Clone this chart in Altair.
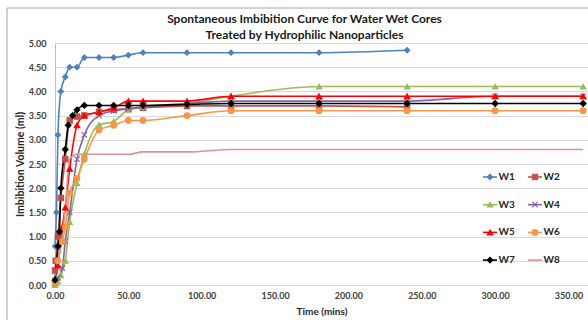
import altair as alt
import pandas as pd

# Series names, colours, marker shapes
SERIES = ["W1", "W2", "W3", "W4", "W5", "W6", "W7", "W8"]
COLORS = ["#4F81BD", "#C0504D", "#9BBB59", "#8064A2", "#FF0000", "#F79646", "#000000", "#D99694"]
X_MARK = "M-1,-1L1,1M-1,1L1,-1"
SHAPES = ["diamond", "square", "triangle-up", X_MARK, "triangle-up", "circle", "diamond", "circle"]
SIZES = [28, 34, 30, 26, 30, 34, 28, 10]

# Imbibition readings: time (mins) and volume (ml) per core
W1_T = [0, 1, 2, 4, 7, 10, 15, 20, 30, 40, 50, 60, 90, 120, 180, 240]
W1_V = [0.8, 1.5, 3.1, 4.0, 4.3, 4.5, 4.5, 4.7, 4.7, 4.7, 4.75, 4.8, 4.8, 4.8, 4.8, 4.85]

W2_T = [0, 0.5, 2, 4, 7, 10, 15, 20, 30, 40, 50, 60, 90, 120, 180, 240]
W2_V = [0.3, 0.5, 1.0, 1.8, 2.6, 3.4, 3.48, 3.5, 3.58, 3.62, 3.64, 3.66, 3.7, 3.7, 3.7, 3.68]

W3_T = [0, 2, 4, 7, 10, 15, 20, 30, 40, 50, 60, 90, 120, 180, 240, 300, 360]
W3_V = [0.0, 0.07, 0.2, 0.5, 1.3, 2.1, 2.7, 3.31, 3.38, 3.62, 3.68, 3.75, 3.9, 4.1, 4.1, 4.1, 4.1]

W4_T = [0, 2, 5, 7, 10, 15, 20, 30, 40, 50, 60, 90, 120, 180, 240, 300, 360]
W4_V = [0.1, 0.15, 0.35, 0.9, 1.5, 2.6, 3.1, 3.5, 3.6, 3.64, 3.68, 3.75, 3.8, 3.8, 3.8, 3.9, 3.9]

W5_T = [0, 2, 5, 7, 10, 15, 20, 30, 40, 50, 60, 90, 120, 180, 240, 300, 360]
W5_V = [0.05, 0.4, 1.2, 1.6, 2.4, 3.3, 3.5, 3.57, 3.66, 3.8, 3.8, 3.8, 3.9, 3.9, 3.9, 3.9, 3.9]

W6_T = [0, 2, 5, 7, 10, 15, 20, 30, 40, 50, 60, 90, 120, 180, 240, 300, 360]
W6_V = [0.05, 0.5, 0.9, 1.2, 1.9, 2.2, 2.6, 3.2, 3.3, 3.4, 3.4, 3.5, 3.6, 3.6, 3.6, 3.6, 3.6]

W7_T = [0, 2, 3, 4, 7, 9, 12, 15, 20, 30, 40, 50, 60, 90, 120, 180, 240, 300, 360]
W7_V = [0.1, 0.8, 1.1, 2.0, 2.8, 3.3, 3.5, 3.62, 3.71, 3.71, 3.71, 3.71, 3.71, 3.73, 3.75, 3.75, 3.75, 3.75, 3.75]

W8_T = [0, 2, 5, 7, 9, 10, 15, 20, 30, 40, 50, 60, 90, 120, 180, 240, 300, 360]
W8_V = [0.2, 0.5, 1.0, 1.6, 2.37, 2.6, 2.7, 2.7, 2.7, 2.7, 2.7, 2.75, 2.75, 2.8, 2.8, 2.8, 2.8, 2.8]

X_TICKS = [0, 50, 100, 150, 200, 250, 300, 350]
Y_TICKS = [0, 0.5, 1, 1.5, 2, 2.5, 3, 3.5, 4, 4.5, 5]

series_data = {
    "W1": (W1_T, W1_V), "W2": (W2_T, W2_V), "W3": (W3_T, W3_V), "W4": (W4_T, W4_V),
    "W5": (W5_T, W5_V), "W6": (W6_T, W6_V), "W7": (W7_T, W7_V), "W8": (W8_T, W8_V),
}
rows = []
for name, (ts, vs) in series_data.items():
    for t, v in zip(ts, vs):
        rows.append({"series": name, "time": t, "volume": v})
df = pd.DataFrame(rows)

FONT = "Lato"
W, H = 533, 242

color_scale = alt.Scale(domain=SERIES, range=COLORS)
shape_scale = alt.Scale(domain=SERIES, range=SHAPES)
size_scale = alt.Scale(domain=SERIES, range=SIZES)
x_scale = alt.Scale(domain=[0, 363.3], nice=False, zero=True)
y_scale = alt.Scale(domain=[0, 5], nice=False)

x_axis = alt.Axis(values=X_TICKS, format=".2f", title="Time (mins)", grid=False,
                  ticks=False, domainColor="#d9d9d9", labelFont=FONT, labelFontSize=9,
                  labelFontWeight="bold", labelColor="#404040", labelPadding=6,
                  labelFlush=False, labelOverlap=False, labelBound=False,
                  titleFont=FONT, titleFontSize=10, titleFontWeight="bold",
                  titleColor="#262626", titlePadding=6)
y_axis = alt.Axis(values=Y_TICKS, tickCount=11, format=".2f", title="Imbibition Volume (ml)",
                  grid=True, gridColor="#d9d9d9", ticks=False, domainColor="#bfbfbf",
                  labelFont=FONT, labelFontSize=9, labelFontWeight="bold",
                  labelColor="#404040", labelPadding=9, labelOverlap=False,
                  labelFlush=False, labelBound=False, titleFont=FONT, titleFontSize=10.5,
                  titleFontWeight="bold", titleColor="#262626", titlePadding=3)

base = alt.Chart(df)

lines = base.mark_line(interpolate="monotone", strokeWidth=1.6).encode(
    x=alt.X("time:Q", scale=x_scale, axis=x_axis),
    y=alt.Y("volume:Q", scale=y_scale, axis=y_axis),
    color=alt.Color("series:N", scale=color_scale, legend=None),
    detail="series:N",
)

points = base.transform_filter(alt.datum.series != "W8").mark_point(
    filled=True, opacity=1, strokeWidth=1.1
).encode(
    x=alt.X("time:Q", scale=x_scale, axis=x_axis),
    y=alt.Y("volume:Q", scale=y_scale, axis=y_axis),
    color=alt.Color("series:N", scale=color_scale, legend=None),
    stroke=alt.Stroke("series:N", scale=color_scale, legend=None),
    shape=alt.Shape("series:N", scale=shape_scale, legend=None),
    size=alt.Size("series:N", scale=size_scale, legend=None),
)

# Outer chart frame
frame = alt.Chart(pd.DataFrame({"k": [0]})).mark_rect(
    fill="transparent", stroke="#a6a6a6", strokeWidth=1
).encode(x=alt.value(-48), x2=alt.value(560), y=alt.value(-35), y2=alt.value(300))

main = alt.layer(lines, points)

# Two-column legend laid out in pixel space
leg_df = pd.DataFrame({"series": SERIES, "idx": list(range(len(SERIES)))})
px_x = alt.Scale(domain=[0, W], nice=False, zero=False)
px_y = alt.Scale(domain=[0, H], nice=False, zero=False, reverse=True)
leg = alt.Chart(leg_df).transform_calculate(
    lx="435 + (datum.idx % 2) * 45",
    ly="134 + floor(datum.idx / 2) * 27.7",
).transform_calculate(
    lx1="datum.lx - 7", lx2="datum.lx + 7", tx="datum.lx + 8.5"
)
leg_lines = leg.mark_rule(strokeWidth=1.6).encode(
    x=alt.X("lx1:Q", scale=px_x, axis=None), x2="lx2:Q",
    y=alt.Y("ly:Q", scale=px_y, axis=None),
    color=alt.Color("series:N", scale=color_scale, legend=None),
)
leg_points = leg.transform_filter(alt.datum.series != "W8").mark_point(
    filled=True, opacity=1, strokeWidth=1.1
).encode(
    x=alt.X("lx:Q", scale=px_x, axis=None),
    y=alt.Y("ly:Q", scale=px_y, axis=None),
    color=alt.Color("series:N", scale=color_scale, legend=None),
    stroke=alt.Stroke("series:N", scale=color_scale, legend=None),
    shape=alt.Shape("series:N", scale=shape_scale, legend=None),
    size=alt.Size("series:N", scale=size_scale, legend=None),
)
leg_text = leg.mark_text(align="left", baseline="middle", font=FONT, fontSize=10,
                         fontWeight="bold", color="#262626").encode(
    x=alt.X("tx:Q", scale=px_x, axis=None),
    y=alt.Y("ly:Q", scale=px_y, axis=None),
    text="series:N",
)
legend = alt.layer(frame, leg_lines, leg_points, leg_text)

chart = alt.layer(main, legend).resolve_scale(x="independent", y="independent").properties(
    width=W, height=H,
    title=alt.TitleParams(
        text=["Spontaneous Imbibition Curve for Water Wet Cores",
              "Treated by Hydrophilic Nanoparticles"],
        font=FONT, fontSize=12, fontWeight="bold", color="#1a1a1a",
        anchor="middle", dx=-17, dy=38, offset=4, lineHeight=16,
    ),
    autosize=alt.AutoSizeParams(type="none"),
    padding={"left": 55, "top": 43, "right": 0, "bottom": 35},
).configure_view(strokeWidth=0).configure(background="white")

chart.save("out.html", embed_options={"renderer": "svg", "actions": False})
